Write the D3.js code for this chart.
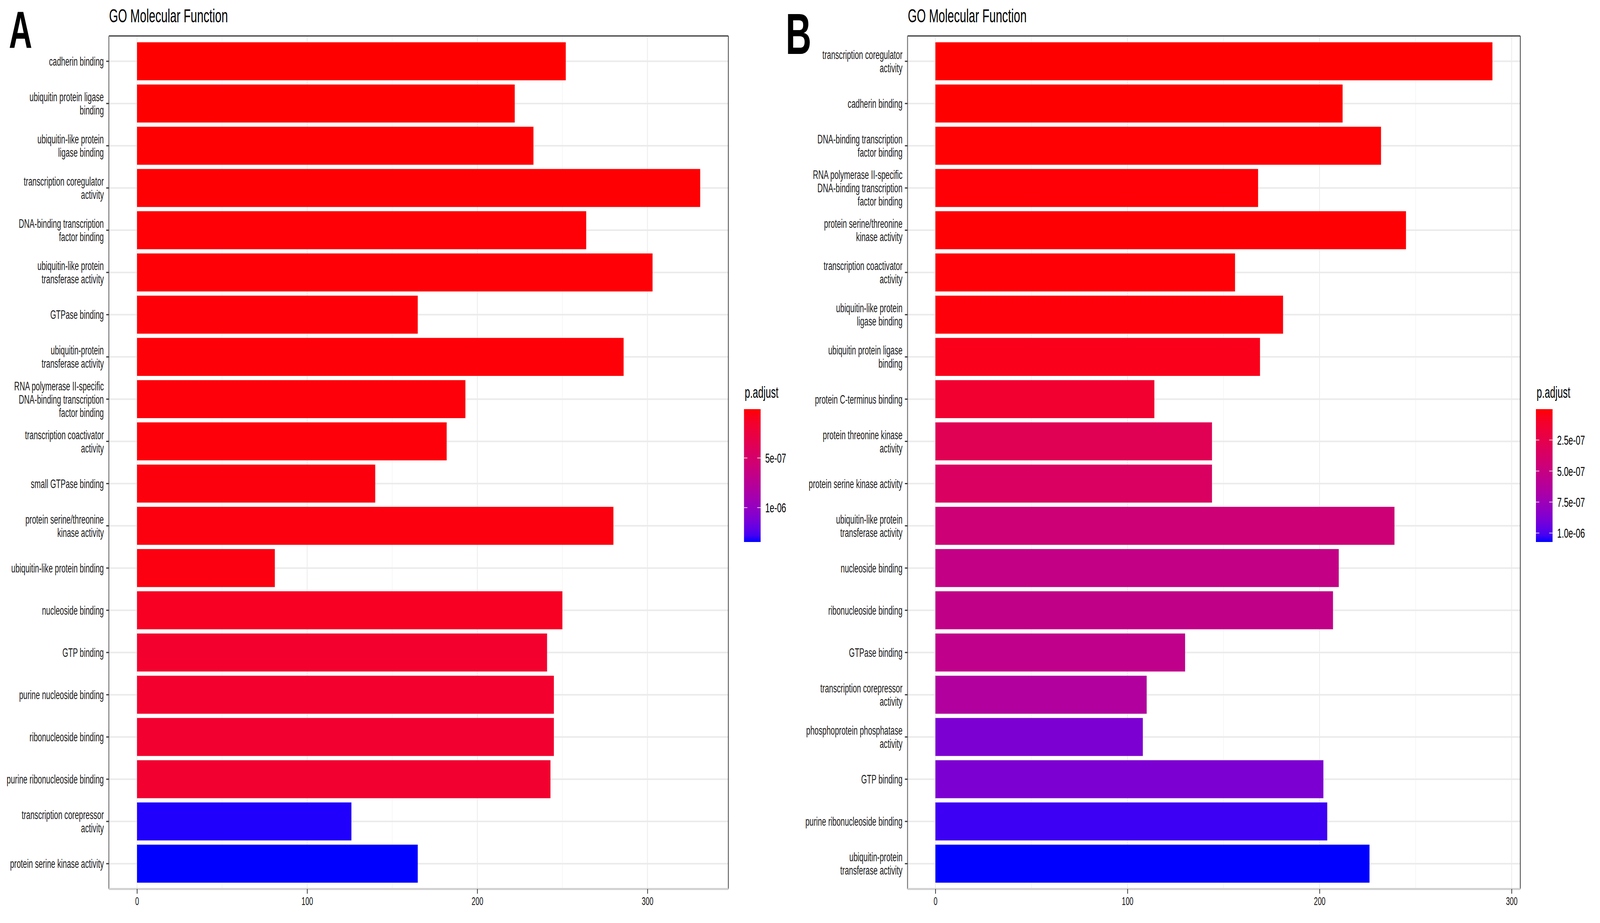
<!DOCTYPE html>
<html>
<head>
<meta charset="utf-8">
<script src="https://cdn.jsdelivr.net/npm/d3@7"></script>
<style>
html, body { margin: 0; padding: 0; background: #fff; overflow: hidden; }
svg { display: block; width: 100vw; height: 100vh; }
text { font-family: "Liberation Sans", Arial, sans-serif; }
</style>
</head>
<body>
<script>
// panel A data (top to bottom)
var termsA = [
  "cadherin binding",
  "ubiquitin protein ligase\nbinding",
  "ubiquitin-like protein\nligase binding",
  "transcription coregulator\nactivity",
  "DNA-binding transcription\nfactor binding",
  "ubiquitin-like protein\ntransferase activity",
  "GTPase binding",
  "ubiquitin-protein\ntransferase activity",
  "RNA polymerase II-specific\nDNA-binding transcription\nfactor binding",
  "transcription coactivator\nactivity",
  "small GTPase binding",
  "protein serine/threonine\nkinase activity",
  "ubiquitin-like protein binding",
  "nucleoside binding",
  "GTP binding",
  "purine nucleoside binding",
  "ribonucleoside binding",
  "purine ribonucleoside binding",
  "transcription corepressor\nactivity",
  "protein serine kinase activity"
];
var countA = [252, 222, 233, 331, 264, 303, 165, 286, 193, 182, 140, 280, 81, 250, 241, 245, 245, 243, 126, 165];
var padjA = [8e-9, 1.0e-8, 1.2e-8, 1.5e-8, 1.8e-8, 2.0e-8, 2.3e-8, 2.5e-8, 2.8e-8, 3.0e-8,
  3.5e-8, 4.0e-8, 4.5e-8, 1.1e-7, 1.6e-7, 1.6e-7, 1.65e-7, 1.7e-7, 1.33e-6, 1.346e-6];

// panel B data (top to bottom)
var termsB = [
  "transcription coregulator\nactivity",
  "cadherin binding",
  "DNA-binding transcription\nfactor binding",
  "RNA polymerase II-specific\nDNA-binding transcription\nfactor binding",
  "protein serine/threonine\nkinase activity",
  "transcription coactivator\nactivity",
  "ubiquitin-like protein\nligase binding",
  "ubiquitin protein ligase\nbinding",
  "protein C-terminus binding",
  "protein threonine kinase\nactivity",
  "protein serine kinase activity",
  "ubiquitin-like protein\ntransferase activity",
  "nucleoside binding",
  "ribonucleoside binding",
  "GTPase binding",
  "transcription corepressor\nactivity",
  "phosphoprotein phosphatase\nactivity",
  "GTP binding",
  "purine ribonucleoside binding",
  "ubiquitin-protein\ntransferase activity"
];
var countB = [290, 212, 232, 168, 245, 156, 181, 169, 114, 144, 144, 239, 210, 207, 130, 110, 108, 202, 204, 226];
var padjB = [1e-9, 3e-9, 6e-9, 1e-8, 8e-9, 1.2e-8, 1.8e-8, 5.5e-8, 1.3e-7, 2.9e-7,
  3.5e-7, 4.5e-7, 5.2e-7, 5.35e-7, 5.45e-7, 6.4e-7, 8.8e-7, 8.8e-7, 1.03e-6, 1.072e-6];

var xTicks = [0, 100, 200, 300];
var xMinor = [50, 150, 250];
var legendTicksA = [5e-7, 1e-6];
var legendLabelsA = ["5e-07", "1e-06"];
var legendTicksB = [2.5e-7, 5e-7, 7.5e-7, 1e-6];
var legendLabelsB = ["2.5e-07", "5.0e-07", "7.5e-07", "1.0e-06"];

var W = 6643, H = 2362;
var svg = d3.select("body").append("svg")
  .attr("viewBox", "0 0 " + W + " " + H)
  .attr("preserveAspectRatio", "none");
svg.append("rect").attr("width", W).attr("height", H).attr("fill", "#fff");
var defs = svg.append("defs");

function drawPanel(p) {
  var g = svg.append("g");
  var max = d3.max(p.count);
  var x = d3.scaleLinear().domain([-0.05 * max, 1.05 * max]).range([p.left, p.right]);
  var y = d3.scaleBand().domain(p.terms).range([p.top, p.bottom])
    .paddingInner(0.1).paddingOuter(0.15);
  var ext = d3.extent(p.padj);
  var color = d3.scaleLinear().domain(ext).range(["red", "blue"]).interpolate(d3.interpolateLab);

  // grid
  g.selectAll(".vminor").data(xMinor).join("line")
    .attr("x1", d => x(d)).attr("x2", d => x(d))
    .attr("y1", p.top).attr("y2", p.bottom)
    .attr("stroke", "#f2f2f2").attr("stroke-width", 2);
  g.selectAll(".vmajor").data(xTicks.filter(d => x(d) < p.right)).join("line")
    .attr("x1", d => x(d)).attr("x2", d => x(d))
    .attr("y1", p.top).attr("y2", p.bottom)
    .attr("stroke", "#ebebeb").attr("stroke-width", 3);
  g.selectAll(".hmajor").data(p.terms).join("line")
    .attr("x1", p.left).attr("x2", p.right)
    .attr("y1", d => y(d) + y.bandwidth() / 2).attr("y2", d => y(d) + y.bandwidth() / 2)
    .attr("stroke", "#ebebeb").attr("stroke-width", 4);

  // bars
  g.selectAll(".bar").data(p.terms).join("rect")
    .attr("x", x(0))
    .attr("y", d => y(d))
    .attr("width", (d, i) => x(p.count[i]) - x(0))
    .attr("height", y.bandwidth())
    .attr("fill", (d, i) => color(p.padj[i]));

  // panel border
  g.append("line").attr("x1", p.left).attr("x2", p.right).attr("y1", p.top).attr("y2", p.top)
    .attr("stroke", "#333").attr("stroke-width", 3);
  g.append("line").attr("x1", p.right).attr("x2", p.right).attr("y1", p.top).attr("y2", p.bottom)
    .attr("stroke", "#333").attr("stroke-width", 3);
  g.append("line").attr("x1", p.left).attr("x2", p.left).attr("y1", p.top).attr("y2", p.bottom)
    .attr("stroke", "#777").attr("stroke-width", 4);
  g.append("line").attr("x1", p.left).attr("x2", p.right).attr("y1", p.bottom).attr("y2", p.bottom)
    .attr("stroke", "#cfcfcf").attr("stroke-width", 5);

  // y axis
  var yAxis = g.append("g").attr("transform", "translate(" + p.left + ",0)")
    .call(d3.axisLeft(y).tickSize(11).tickPadding(10));
  yAxis.select(".domain").remove();
  yAxis.selectAll(".tick line").attr("stroke", "#333").attr("stroke-width", 3);
  yAxis.selectAll(".tick text")
    .attr("font-size", 31).attr("fill", "#1a1a1a")
    .attr("font-family", '"Liberation Sans", Arial, sans-serif')
    .each(function(d) {
      var lines = d.split("\n");
      var t = d3.select(this);
      var xx = t.attr("x");
      t.text(null).attr("dy", null);
      lines.forEach(function(s, i) {
        t.append("tspan").attr("x", xx)
          .attr("y", (i - (lines.length - 1) / 2) * 34)
          .attr("dy", "0.36em").text(s);
      });
    });

  // x axis
  var xAxis = g.append("g").attr("transform", "translate(0," + p.bottom + ")")
    .call(d3.axisBottom(x).tickValues(xTicks).tickSize(12).tickPadding(8));
  xAxis.select(".domain").remove();
  xAxis.selectAll(".tick line").attr("stroke", "#333").attr("stroke-width", 3);
  xAxis.selectAll(".tick text").attr("font-size", 29).attr("fill", "#1a1a1a")
    .attr("font-family", '"Liberation Sans", Arial, sans-serif');

  // titles
  svg.append("text").attr("x", p.left + 1).attr("y", 57)
    .attr("font-size", 48).attr("fill", "#000").text("GO Molecular Function");
  svg.append("text").attr("x", p.letterX).attr("y", p.letterY)
    .attr("font-size", p.letterSize).attr("font-weight", "bold").attr("fill", "#000").text(p.letter);

  // legend
  var gid = "grad" + p.letter;
  var grad = defs.append("linearGradient").attr("id", gid)
    .attr("x1", 0).attr("y1", 0).attr("x2", 0).attr("y2", 1);
  d3.range(0, 1.0001, 0.05).forEach(function(t) {
    grad.append("stop").attr("offset", t)
      .attr("stop-color", color(ext[0] + t * (ext[1] - ext[0])));
  });
  var ly = d3.scaleLinear().domain(ext).range([1047, 1387]);
  svg.append("text").attr("x", p.legX + 3).attr("y", 1018)
    .attr("font-size", 40).attr("fill", "#000").text("p.adjust");
  svg.append("rect").attr("x", p.legX).attr("y", 1047)
    .attr("width", 69).attr("height", 340).attr("fill", "url(#" + gid + ")");
  var lg = svg.append("g");
  lg.selectAll(".lt1").data(p.legTicks).join("line")
    .attr("x1", p.legX).attr("x2", p.legX + 14)
    .attr("y1", d => ly(d)).attr("y2", d => ly(d))
    .attr("stroke", "#fff").attr("stroke-opacity", 0.8).attr("stroke-width", 2);
  lg.selectAll(".lt2").data(p.legTicks).join("line")
    .attr("x1", p.legX + 55).attr("x2", p.legX + 69)
    .attr("y1", d => ly(d)).attr("y2", d => ly(d))
    .attr("stroke", "#fff").attr("stroke-opacity", 0.8).attr("stroke-width", 2);
  lg.selectAll(".ll").data(p.legTicks).join("text")
    .attr("x", p.legX + 88).attr("y", d => ly(d)).attr("dy", "0.36em")
    .attr("font-size", 34).attr("fill", "#000")
    .text((d, i) => p.legLabels[i]);
}

drawPanel({
  terms: termsA, count: countA, padj: padjA,
  left: 452, right: 3024, top: 92, bottom: 2275,
  letter: "A", letterX: 37, letterY: 123, letterSize: 134,
  legX: 3089, legTicks: legendTicksA, legLabels: legendLabelsA
});
drawPanel({
  terms: termsB, count: countB, padj: padjB,
  left: 3768, right: 6312, top: 92, bottom: 2275,
  letter: "B", letterX: 3262, letterY: 138, letterSize: 148,
  legX: 6377, legTicks: legendTicksB, legLabels: legendLabelsB
});
</script>
</body>
</html>
